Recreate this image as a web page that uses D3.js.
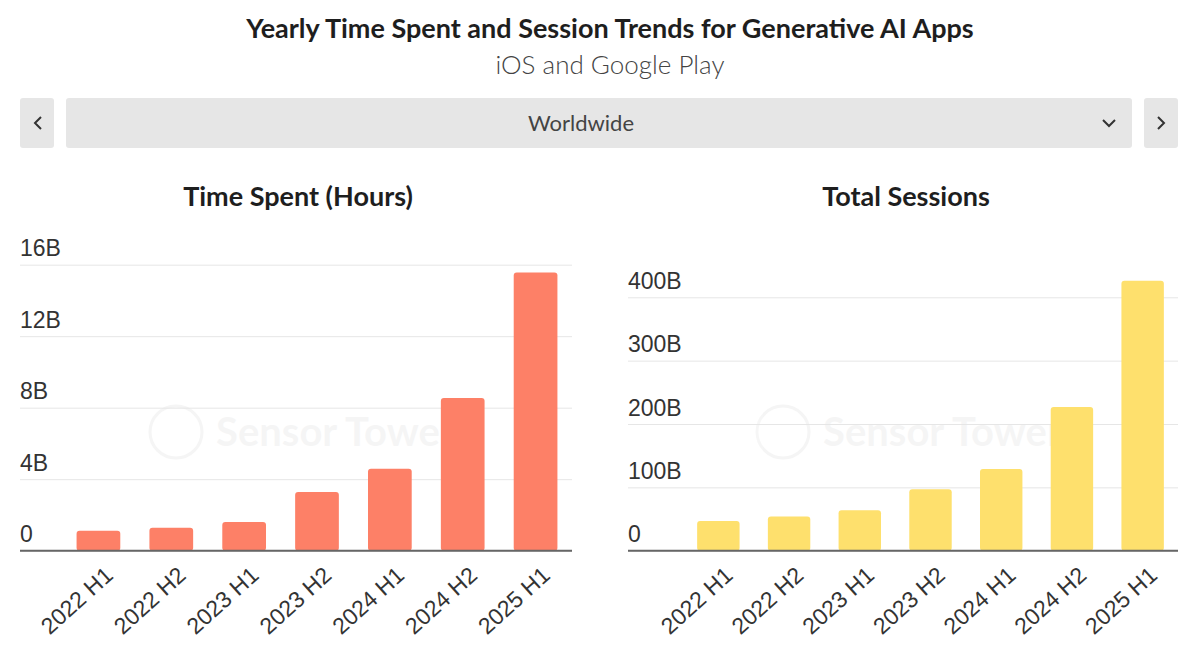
<!DOCTYPE html>
<html>
<head>
<meta charset="utf-8">
<script src="https://cdn.jsdelivr.net/npm/d3@7"></script>
<style>
  body { margin: 0; background: #fff; }
  svg { font-family: Lato, "Open Sans", sans-serif; }
  .grid line { stroke: #e6e6e6; stroke-width: 1; }
  .grid path { display: none; }
  .grid text { fill: #333; font-size: 23px; }
  .xaxis path, .xaxis line { display: none; }
  .xaxis text { fill: #333; font-size: 23px; }
</style>
</head>
<body>
<svg></svg>
<script>
window.onload = function () {

    let width = 1200;
    let height = 656;
    let svg = d3.select("svg").attr("width", width).attr("height", height);

    // chart data (values in billions)
    const periods = ["2022 H1", "2022 H2", "2023 H1", "2023 H2", "2024 H1", "2024 H2", "2025 H1"];
    const timeSpent = [1.12, 1.29, 1.6, 3.28, 4.59, 8.54, 15.57];
    const sessions = [47, 54, 64, 97, 129, 227, 426];
    const timeTicks = [0, 4, 8, 12, 16];
    const sessionTicks = [0, 100, 200, 300, 400];

    // header
    svg.append("text").attr("x", 610).attr("y", 38).attr("text-anchor", "middle")
        .attr("font-size", 27).attr("font-weight", "bold").attr("fill", "#1e1e1e")
        .text("Yearly Time Spent and Session Trends for Generative AI Apps");
    svg.append("text").attr("x", 610).attr("y", 74).attr("text-anchor", "middle")
        .attr("font-size", 26).attr("font-weight", 300).attr("fill", "#444")
        .text("iOS and Google Play");

    // region selector
    let sel = svg.append("g");
    sel.append("rect").attr("x", 20).attr("y", 98).attr("width", 34).attr("height", 50).attr("rx", 3).attr("fill", "#e6e6e6");
    sel.append("rect").attr("x", 66).attr("y", 98).attr("width", 1066).attr("height", 50).attr("rx", 3).attr("fill", "#e6e6e6");
    sel.append("rect").attr("x", 1144).attr("y", 98).attr("width", 34).attr("height", 50).attr("rx", 3).attr("fill", "#e6e6e6");
    sel.append("path").attr("d", "M41 117 L35 123 L41 129").attr("fill", "none").attr("stroke", "#333").attr("stroke-width", 2);
    sel.append("path").attr("d", "M1158 117 L1164 123 L1158 129").attr("fill", "none").attr("stroke", "#333").attr("stroke-width", 2);
    sel.append("path").attr("d", "M1103 120 L1109 126 L1115 120").attr("fill", "none").attr("stroke", "#333").attr("stroke-width", 2);
    sel.append("text").attr("x", 581).attr("y", 131).attr("text-anchor", "middle")
        .attr("font-size", 22).attr("fill", "#444").text("Worldwide");

    function drawChart(opts) {
        let g = svg.append("g");

        g.append("text").attr("x", opts.titleX).attr("y", 206).attr("text-anchor", "middle")
            .attr("font-size", 27).attr("font-weight", "bold").attr("fill", "#1e1e1e")
            .text(opts.title);

        let x = d3.scaleBand().domain(periods).range([opts.bandStart, opts.right]).paddingInner(0.4).paddingOuter(0.2);
        let y = d3.scaleLinear().domain([0, opts.ticks[opts.ticks.length - 1]]).range([550.7, opts.top]);

        // watermark
        let wm = g.append("g").attr("opacity", 0.035);
        let cx = (opts.left + opts.right) / 2;
        wm.append("circle").attr("cx", cx - 120).attr("cy", 432).attr("r", 26)
            .attr("fill", "none").attr("stroke", "#000").attr("stroke-width", 3);
        wm.append("text").attr("x", cx - 80).attr("y", 446).attr("font-size", 40)
            .attr("font-weight", "bold").attr("fill", "#000").text("Sensor Tower");

        // gridlines with labels above
        let grid = g.append("g").attr("class", "grid")
            .attr("transform", "translate(" + opts.left + ",0)")
            .call(d3.axisRight(y).tickValues(opts.ticks).tickSize(opts.right - opts.left)
                .tickFormat(function (d) { return d === 0 ? "0" : d + "B"; }));
        grid.selectAll("text").attr("x", 0).attr("dy", -9).attr("text-anchor", "start");

        g.selectAll("rect.bar").data(opts.values).join("rect").attr("class", "bar")
            .attr("x", function (d, i) { return x(periods[i]); })
            .attr("y", function (d) { return y(d); })
            .attr("width", x.bandwidth())
            .attr("height", function (d) { return y(0) - y(d); })
            .attr("rx", 3)
            .attr("fill", opts.color);

        // baseline
        g.append("line").attr("x1", opts.left).attr("x2", opts.right)
            .attr("y1", 550.7).attr("y2", 550.7).attr("stroke", "#666").attr("stroke-width", 2);

        let xa = g.append("g").attr("class", "xaxis")
            .attr("transform", "translate(0,551)")
            .call(d3.axisBottom(x).tickSize(0));
        xa.selectAll("text")
            .attr("text-anchor", "end")
            .attr("dy", 0)
            .attr("transform", "translate(14,24) rotate(-42)");
    }

    drawChart({
        title: "Time Spent (Hours)", titleX: 298,
        left: 20, bandStart: 62, right: 572, top: 264.7,
        values: timeSpent, ticks: timeTicks, color: "#fd8067"
    });
    drawChart({
        title: "Total Sessions", titleX: 906,
        left: 628, bandStart: 683, right: 1178, top: 297.3,
        values: sessions, ticks: sessionTicks, color: "#fee06d"
    });
}
</script>
</body>
</html>
